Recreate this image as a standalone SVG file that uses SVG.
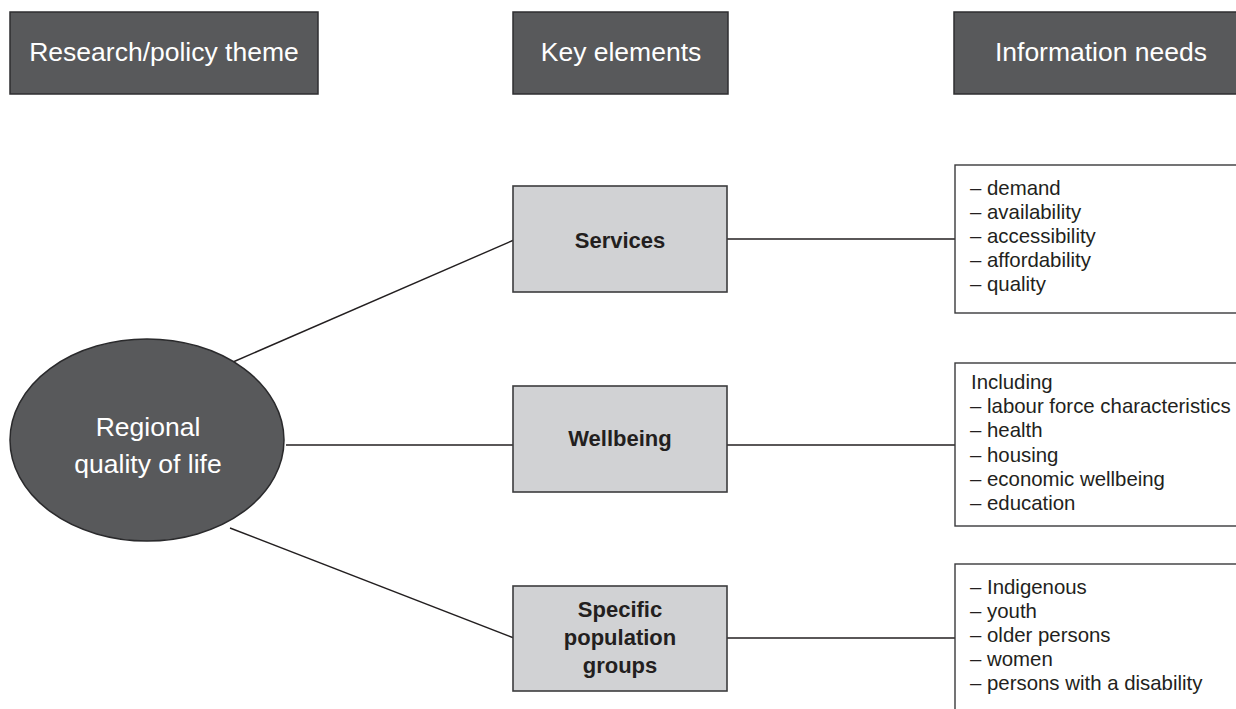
<svg xmlns="http://www.w3.org/2000/svg" width="1236" height="709" viewBox="0 0 1236 709">
  <style>
    .hdr { fill: #58595b; stroke: #2e2e30; stroke-width: 1.5; }
    .hdr-t { font-family: "Liberation Sans", Arial, sans-serif; font-size: 26.5px; fill: #ffffff; text-anchor: middle; }
    .theme { fill: #58595b; stroke: #2a2a2c; stroke-width: 1.5; }
    .theme-t { font-family: "Liberation Sans", Arial, sans-serif; font-size: 26.5px; fill: #ffffff; text-anchor: middle; }
    .key { fill: #d1d2d4; stroke: #3c3c3e; stroke-width: 1.6; }
    .key-t { font-family: "Liberation Sans", Arial, sans-serif; font-size: 22px; font-weight: bold; fill: #231f20; text-anchor: middle; }
    .info { fill: #ffffff; stroke: #3a3a3c; stroke-width: 1.4; }
    .info-t { font-family: "Liberation Sans", Arial, sans-serif; font-size: 20.4px; fill: #231f20; }
    .conn line { stroke: #231f20; stroke-width: 1.4; }
  </style>

  <!-- column headers -->
  <g id="header-theme">
    <rect class="hdr" x="10" y="12" width="308" height="82"/>
    <text class="hdr-t" x="164" y="61">Research/policy theme</text>
  </g>
  <g id="header-elements">
    <rect class="hdr" x="513" y="12" width="215" height="82"/>
    <text class="hdr-t" x="621" y="61">Key elements</text>
  </g>
  <g id="header-needs">
    <rect class="hdr" x="954" y="12" width="290" height="82"/>
    <text class="hdr-t" x="1101" y="61">Information needs</text>
  </g>

  <!-- connectors -->
  <g id="connectors" class="conn">
    <line x1="233" y1="362" x2="514" y2="240"/>
    <line x1="286" y1="445" x2="514" y2="445"/>
    <line x1="230" y1="528" x2="514" y2="638"/>
    <line x1="727" y1="239" x2="955" y2="239"/>
    <line x1="727" y1="445" x2="955" y2="445"/>
    <line x1="727" y1="638" x2="955" y2="638"/>
  </g>

  <!-- theme -->
  <g id="theme">
    <ellipse class="theme" cx="147" cy="440" rx="137" ry="101"/>
    <text class="theme-t" x="148" y="436">Regional</text>
    <text class="theme-t" x="148" y="473">quality of life</text>
  </g>

  <!-- key elements -->
  <g id="services">
    <rect class="key" x="513" y="186" width="214" height="106"/>
    <text class="key-t" x="620" y="248">Services</text>
  </g>
  <g id="wellbeing">
    <rect class="key" x="513" y="386" width="214" height="106"/>
    <text class="key-t" x="620" y="446">Wellbeing</text>
  </g>
  <g id="population-groups">
    <rect class="key" x="513" y="586" width="214" height="105"/>
    <text class="key-t" x="620" y="617">Specific</text>
    <text class="key-t" x="620" y="645">population</text>
    <text class="key-t" x="620" y="673">groups</text>
  </g>

  <!-- information needs -->
  <g id="needs-services">
    <rect class="info" x="955" y="165" width="290" height="148"/>
    <text class="info-t" x="970" y="195">– demand</text>
    <text class="info-t" x="970" y="219">– availability</text>
    <text class="info-t" x="970" y="243">– accessibility</text>
    <text class="info-t" x="970" y="267">– affordability</text>
    <text class="info-t" x="970" y="291">– quality</text>
  </g>
  <g id="needs-wellbeing">
    <rect class="info" x="955" y="363" width="290" height="163"/>
    <text class="info-t" x="971" y="389">Including</text>
    <text class="info-t" x="970" y="413">– labour force characteristics</text>
    <text class="info-t" x="970" y="437">– health</text>
    <text class="info-t" x="970" y="462">– housing</text>
    <text class="info-t" x="970" y="486">– economic wellbeing</text>
    <text class="info-t" x="970" y="510">– education</text>
  </g>
  <g id="needs-groups">
    <rect class="info" x="955" y="564" width="290" height="160"/>
    <text class="info-t" x="970" y="594">– Indigenous</text>
    <text class="info-t" x="970" y="618">– youth</text>
    <text class="info-t" x="970" y="642">– older persons</text>
    <text class="info-t" x="970" y="666">– women</text>
    <text class="info-t" x="970" y="690">– persons with a disability</text>
  </g>
</svg>
